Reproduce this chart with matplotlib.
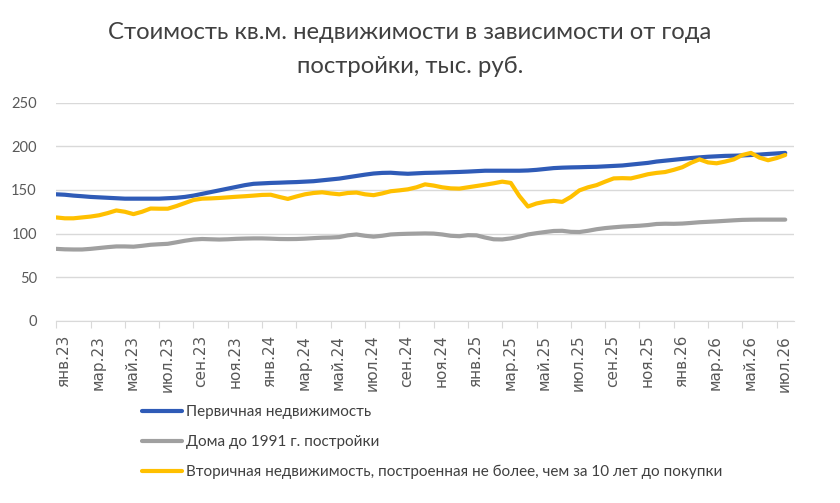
import numpy as np
from matplotlib import pyplot as plt
from matplotlib import font_manager

# semi-monthly readings, янв.23 .. середина июл.26 (86 points)
months = np.arange(86) / 2.0

primary = [145, 144.5, 143.5, 142.8, 142, 141.5, 141, 140.5, 140, 140,
           140, 140, 140, 140.5, 141, 142, 143.5, 145.5, 147.5, 149.5,
           151.5, 153.5, 155.5, 157, 157.5, 158, 158.3, 158.7, 159, 159.5,
           160, 161, 162, 163, 164.5, 166, 167.5, 168.8, 169.5, 169.7,
           169, 168.5, 169, 169.5, 169.7, 170, 170.3, 170.6, 171, 171.5,
           172, 172, 172, 172, 172, 172.3, 173, 174, 175, 175.5,
           175.8, 176, 176.3, 176.5, 177, 177.5, 178, 179, 180, 181,
           182.5, 183.5, 184.5, 185.5, 186.5, 187.3, 188, 188.5, 189, 189.2,
           189.5, 190, 190.5, 191.2, 191.8, 192.4]

old_houses = [82.5, 82, 81.8, 81.8, 82.5, 83.5, 84.5, 85.3, 85.3, 85,
              86, 87.2, 87.8, 88.3, 90, 91.8, 93.2, 93.8, 93.5, 93.2,
              93.5, 94, 94.3, 94.5, 94.5, 94.2, 93.8, 93.7, 93.8, 94.2,
              94.8, 95.3, 95.5, 96, 98, 99, 97.5, 96.5, 97.5, 99,
              99.5, 99.8, 100, 100.2, 100, 99, 97.5, 97, 98.2, 98,
              95.5, 93.5, 93.3, 94.5, 96.5, 99, 100.5, 101.8, 103, 103.2,
              102, 101.8, 103.2, 105, 106.3, 107.2, 108, 108.5, 109, 109.8,
              111, 111.3, 111.2, 111.5, 112.2, 113, 113.5, 114, 114.6, 115.2,
              115.7, 115.9, 116, 116, 116, 116]

secondary_new = [118.5, 117.5, 117.5, 118.5, 119.5, 121, 123.5, 126.5, 125, 122.3,
                 125, 128.7, 128.5, 128.5, 131.5, 135, 138.5, 140, 140.3, 140.8,
                 141.5, 142.2, 142.8, 143.5, 144.3, 144.5, 142, 139.7, 142.5, 145,
                 146.5, 147.3, 146, 145, 146.5, 147, 145, 144, 146, 148.5,
                 149.5, 150.7, 153, 156.4, 155, 153, 151.8, 151.5, 153, 154.5,
                 156, 157.6, 159.5, 158, 143, 131, 134.5, 136.5, 137.5, 136.3,
                 142, 149.5, 153, 155.5, 159.5, 163.2, 163.5, 163.2, 165.5, 168,
                 169.5, 170.5, 173, 176, 181, 185, 181.5, 180.5, 182.5, 185,
                 190, 192.4, 187, 184, 186.5, 190]

labels = ["Первичная недвижимость",
          "Дома до 1991 г. постройки",
          "Вторичная недвижимость, построенная не более, чем за 10 лет до покупки"]

tick_labels = ["янв.23", "мар.23", "май.23", "июл.23", "сен.23", "ноя.23",
               "янв.24", "мар.24", "май.24", "июл.24", "сен.24", "ноя.24",
               "янв.25", "мар.25", "май.25", "июл.25", "сен.25", "ноя.25",
               "янв.26", "мар.26", "май.26", "июл.26"]

names = {f.name for f in font_manager.fontManager.ttflist}
main_font = "Lato" if "Lato" in names else "DejaVu Sans"
legend_font = "Liberation Sans Narrow" if "Liberation Sans Narrow" in names else main_font
plt.rcParams["font.family"] = [main_font, "DejaVu Sans"]

fig = plt.figure(figsize=(8.4, 5.03), dpi=100)
ax = fig.add_axes([0.067, 0.362, 0.878, 0.434])

ax.plot(months, primary, color="#2F5BB7", lw=3, solid_capstyle="round", label=labels[0])
ax.plot(months, old_houses, color="#A0A0A0", lw=3, solid_capstyle="round", label=labels[1])
ax.plot(months, secondary_new, color="#FFC000", lw=3, solid_capstyle="round", label=labels[2])

ax.set_xlim(0, 43)
ax.set_ylim(0, 250)
ax.set_yticks(range(0, 251, 50))
ax.set_xticks(np.arange(0, 43, 2))
# ha="left" puts the rotated text just right of the tick, like excel does
ax.set_xticklabels(tick_labels, rotation=90, ha="left", family="DejaVu Sans", fontsize=11)
ax.grid(axis="y", color="#D9D9D9", lw=1)
ax.set_axisbelow(True)
for s in ["top", "right", "left"]:
    ax.spines[s].set_visible(False)
ax.spines["bottom"].set_color("#D9D9D9")
ax.tick_params(axis="y", length=0, pad=14, labelsize=10.5, labelcolor="#595959")
ax.tick_params(axis="x", length=5, color="#D9D9D9", pad=5, labelcolor="#595959")

fig.text(0.488, 0.935, "Стоимость кв.м. недвижимости в зависимости от года",
         ha="center", va="center", fontsize=17.2, color="#404040")
fig.text(0.488, 0.868, "постройки, тыс. руб.",
         ha="center", va="center", fontsize=17.2, color="#404040")

fig.legend(loc="upper left", bbox_to_anchor=(0.16, 0.21), ncol=1, frameon=False,
           prop={"family": [legend_font, "DejaVu Sans"], "size": 11},
           handlelength=2.6, handletextpad=0.3, labelspacing=1.05,
           borderpad=0, labelcolor="#404040")

fig.savefig("out.png", dpi=100)
